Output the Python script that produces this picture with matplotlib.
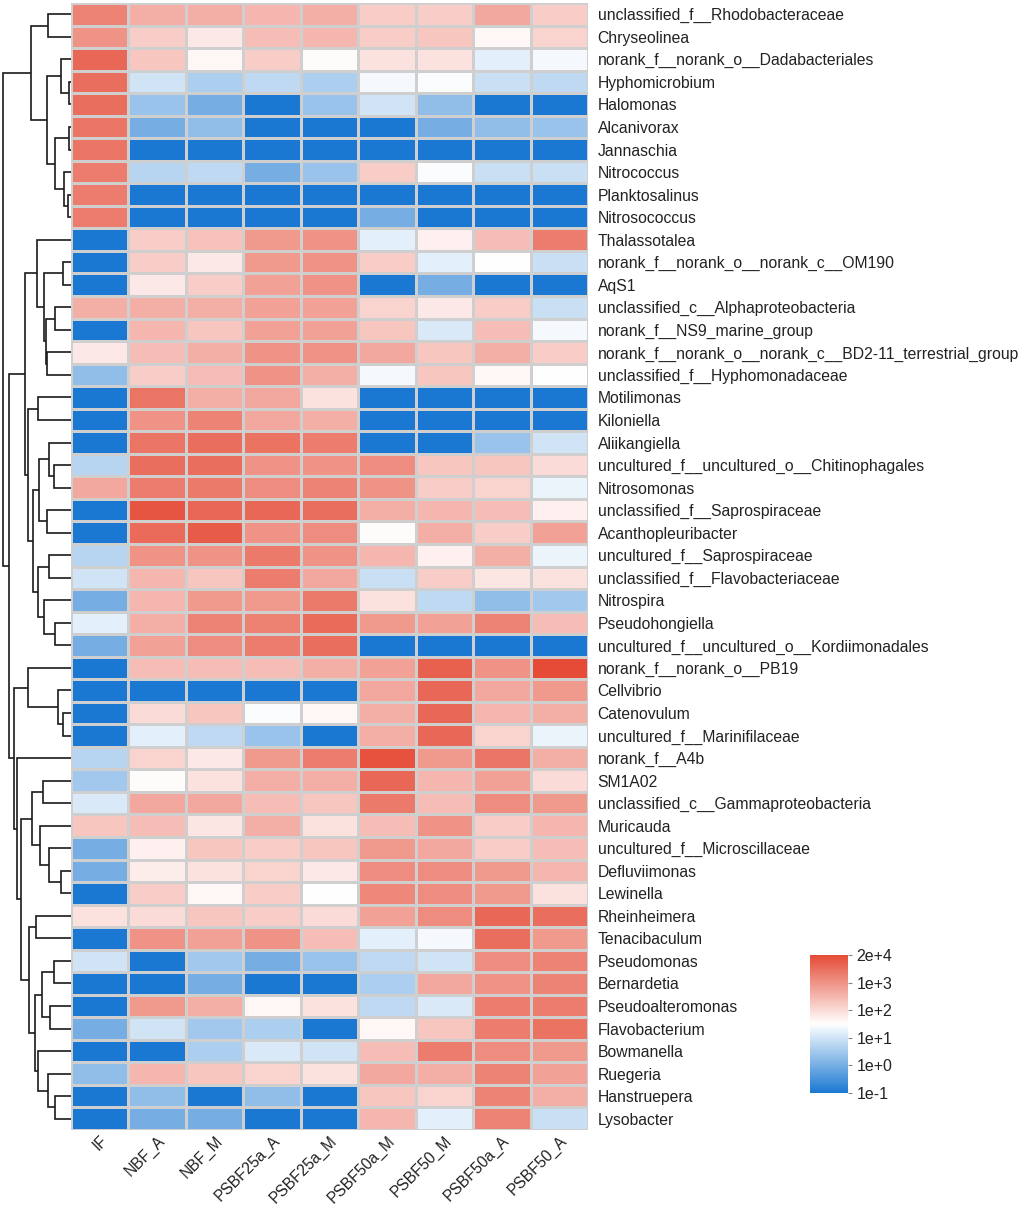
import matplotlib
matplotlib.use('Agg')
import matplotlib.pyplot as plt
import numpy as np
from matplotlib.colors import LinearSegmentedColormap, Normalize
from matplotlib.colorbar import ColorbarBase

plt.rcParams['font.family'] = ['Liberation Sans', 'DejaVu Sans']
plt.rcParams['font.size'] = 11.3

genera = ['unclassified_f__Rhodobacteraceae', 'Chryseolinea', 'norank_f__norank_o__Dadabacteriales',
          'Hyphomicrobium', 'Halomonas', 'Alcanivorax', 'Jannaschia', 'Nitrococcus', 'Planktosalinus',
          'Nitrosococcus', 'Thalassotalea', 'norank_f__norank_o__norank_c__OM190', 'AqS1',
          'unclassified_c__Alphaproteobacteria', 'norank_f__NS9_marine_group',
          'norank_f__norank_o__norank_c__BD2-11_terrestrial_group', 'unclassified_f__Hyphomonadaceae',
          'Motilimonas', 'Kiloniella', 'Aliikangiella', 'uncultured_f__uncultured_o__Chitinophagales',
          'Nitrosomonas', 'unclassified_f__Saprospiraceae', 'Acanthopleuribacter',
          'uncultured_f__Saprospiraceae', 'unclassified_f__Flavobacteriaceae', 'Nitrospira',
          'Pseudohongiella', 'uncultured_f__uncultured_o__Kordiimonadales', 'norank_f__norank_o__PB19',
          'Cellvibrio', 'Catenovulum', 'uncultured_f__Marinifilaceae', 'norank_f__A4b', 'SM1A02',
          'unclassified_c__Gammaproteobacteria', 'Muricauda', 'uncultured_f__Microscillaceae',
          'Defluviimonas', 'Lewinella', 'Rheinheimera', 'Tenacibaculum', 'Pseudomonas', 'Bernardetia',
          'Pseudoalteromonas', 'Flavobacterium', 'Bowmanella', 'Ruegeria', 'Hanstruepera', 'Lysobacter']

samples = ['IF', 'NBF_A', 'NBF_M', 'PSBF25a_A', 'PSBF25a_M', 'PSBF50a_M', 'PSBF50_M', 'PSBF50a_A', 'PSBF50_A']

# position on the colour key, 0 = 1e-1 ... 5 = 2e+4
IF = [4.2, 4.0, 4.6, 4.5, 4.5, 4.4, 4.4, 4.3, 4.3, 4.3,
      0, 0, 0, 3.6, 0, 2.8, 1.3, 0, 0, 0,
      1.7, 3.7, 0, 0, 1.7, 2.0, 1.0, 2.2, 1.0, 0,
      0, 0, 0, 1.7, 1.5, 2.1, 3.3, 1.0, 1.0, 0,
      2.9, 0, 2.0, 0, 0, 1.0, 0, 1.3, 0, 0]
NBF_A = [3.6, 3.2, 3.3, 2.0, 1.4, 1.0, 0, 1.7, 0, 0,
         3.2, 3.2, 2.8, 3.6, 3.5, 3.4, 3.2, 4.4, 4.0, 4.4,
         4.5, 4.3, 4.85, 4.55, 4.0, 3.5, 3.5, 3.6, 3.8, 3.4,
         0, 3.0, 2.2, 3.1, 2.55, 3.7, 3.4, 2.7, 2.75, 3.2,
         3.0, 4.0, 0, 0, 3.9, 2.0, 0, 3.5, 1.3, 1.0]
NBF_M = [3.6, 2.8, 2.6, 1.6, 1.0, 1.3, 0, 1.8, 0, 0,
         3.35, 2.8, 3.2, 3.6, 3.3, 3.6, 3.4, 3.6, 4.2, 4.5,
         4.5, 4.35, 4.6, 4.75, 4.0, 3.3, 3.9, 4.2, 4.1, 3.4,
         0, 3.3, 1.8, 2.8, 2.9, 3.7, 2.85, 3.3, 2.9, 2.6,
         3.3, 3.8, 1.5, 1.0, 3.6, 1.5, 1.6, 3.3, 0, 1.0]
PSBF25a_A = [3.5, 3.4, 3.2, 1.8, 0, 0, 0, 1.0, 0, 0,
             3.9, 3.9, 3.8, 3.8, 3.8, 4.0, 4.0, 3.7, 3.7, 4.45,
             4.0, 4.1, 4.6, 4.0, 4.35, 4.3, 3.9, 4.25, 4.3, 3.4,
             0, 2.45, 1.4, 3.9, 3.6, 3.4, 3.6, 3.2, 3.1, 3.2,
             3.2, 4.0, 1.0, 0, 2.6, 1.6, 2.1, 3.1, 1.3, 0]
PSBF25a_M = [3.6, 3.5, 2.55, 1.6, 1.4, 0, 0, 1.4, 0, 0,
             4.0, 4.0, 4.0, 3.8, 3.8, 4.0, 3.6, 2.9, 3.6, 4.3,
             4.0, 4.2, 4.5, 4.1, 4.0, 3.7, 4.35, 4.55, 4.5, 3.6,
             0, 2.6, 0, 4.3, 3.6, 3.3, 2.9, 3.3, 2.8, 2.5,
             3.0, 3.4, 1.4, 0, 2.9, 0, 2.0, 2.9, 0, 0]
PSBF50a_M = [3.2, 3.2, 2.9, 2.4, 2.0, 0, 0, 3.2, 0, 1.0,
             2.2, 3.2, 0, 3.1, 3.3, 3.7, 2.4, 0, 0, 0,
             4.1, 4.0, 3.6, 2.55, 3.5, 1.9, 2.9, 3.9, 0, 3.8,
             3.7, 3.6, 3.6, 4.9, 4.6, 4.35, 3.4, 3.9, 4.1, 4.15,
             3.8, 2.2, 1.8, 1.6, 1.8, 2.6, 3.4, 3.7, 3.3, 3.5]
PSBF50_M = [3.2, 3.3, 2.9, 2.45, 1.3, 1.0, 0, 2.45, 0, 0,
            2.7, 2.2, 1.0, 2.8, 2.1, 3.3, 3.3, 0, 0, 0,
            3.3, 3.2, 3.5, 3.6, 2.7, 3.2, 1.8, 3.8, 0, 4.7,
            4.6, 4.6, 4.6, 3.9, 3.5, 3.4, 4.0, 3.7, 4.1, 4.1,
            4.1, 2.4, 2.0, 3.7, 2.1, 3.3, 4.3, 3.6, 3.1, 2.2]
PSBF50a_A = [3.7, 2.6, 2.2, 1.9, 0, 1.3, 0, 1.9, 0, 0,
             3.4, 2.5, 0, 3.2, 3.4, 3.6, 2.6, 0, 0, 1.4,
             3.3, 3.1, 3.4, 3.2, 3.6, 2.85, 1.3, 4.2, 0, 4.0,
             3.7, 3.5, 3.1, 4.4, 3.8, 4.1, 3.2, 3.2, 3.9, 3.9,
             4.6, 4.5, 4.1, 4.0, 4.3, 4.3, 4.1, 4.2, 4.2, 4.2]
PSBF50_A = [3.2, 3.1, 2.4, 1.8, 0, 1.4, 0, 1.9, 0, 0,
            4.3, 1.9, 0, 1.9, 2.4, 3.2, 2.5, 0, 0, 2.0,
            3.0, 2.3, 2.7, 3.8, 2.3, 2.9, 1.5, 3.4, 0, 5.0,
            3.9, 3.6, 2.3, 3.6, 3.0, 3.9, 3.5, 3.4, 3.5, 2.9,
            4.5, 3.9, 4.2, 4.2, 4.3, 4.45, 3.9, 3.8, 3.6, 1.9]

key_ticks = [0, 1, 2, 3, 4, 5]
key_labels = ['1e-1', '1e+0', '1e+1', '1e+2', '1e+3', '2e+4']

# row clustering: (node, child, child, merge height); ints are row numbers (1-based)
row_links = [
    ('a1', 1, 2, 22.7), ('a2', 4, 5, 2.0), ('a3', 3, 'a2', 10.0), ('a4', 6, 7, 2.0),
    ('a5', 9, 10, 2.7), ('a6', 8, 'a5', 6.7), ('a7', 'a4', 'a6', 16.0), ('a8', 'a3', 'a7', 23.7),
    ('E', 'a1', 'a8', 40.3),
    ('b1', 12, 13, 7.7), ('b2', 14, 15, 16.0), ('b3', 16, 17, 24.3), ('F', 'b2', 'b3', 25.5),
    ('G', 'b1', 'F', 26.7), ('I', 11, 'G', 34.3), ('b4', 18, 19, 32.7), ('b5', 21, 22, 16.7),
    ('b6', 20, 'b5', 21.7), ('b7', 23, 24, 24.3), ('b8', 'b6', 'b7', 31.7), ('b9', 25, 26, 21.7),
    ('b10', 28, 29, 16.0), ('b11', 27, 'b10', 26.7), ('K', 'b9', 'b11', 33.3), ('L', 'b8', 'K', 38.0),
    ('J', 'b4', 'L', 42.7), ('H', 'I', 'J', 46.0),
    ('c1', 32, 33, 7.7), ('c2', 31, 'c1', 12.7), ('N', 30, 'c2', 42.7), ('c3', 35, 36, 27.7),
    ('c4', 39, 40, 10.0), ('c5', 38, 'c4', 21.7), ('O', 37, 'c5', 31.0), ('P', 'c3', 'O', 38.7),
    ('c6', 41, 42, 35.0), ('c7', 43, 44, 17.0), ('c8', 45, 46, 21.0), ('c9', 'c7', 'c8', 28.7),
    ('c10', 49, 50, 16.0), ('c11', 48, 'c10', 22.7), ('c12', 47, 'c11', 32.7), ('T', 'c9', 'c12', 36.0),
    ('S', 'c6', 'T', 41.7), ('U', 'P', 'S', 50.3), ('Q', 34, 'U', 54.3), ('W', 'N', 'Q', 57.0),
    ('V', 'H', 'W', 61.7), ('root', 'E', 'V', 68.3),
]

W_PX, H_PX = 1024, 1207
fig = plt.figure(figsize=(W_PX / 100, H_PX / 100), dpi=100)

hm_left, hm_right, hm_top, hm_bottom = 71, 588, 3, 1130
ax = fig.add_axes([hm_left / W_PX, 1 - hm_bottom / H_PX,
                   (hm_right - hm_left) / W_PX, (hm_bottom - hm_top) / H_PX])
ax_d = fig.add_axes([0, 1 - hm_bottom / H_PX, hm_left / W_PX, (hm_bottom - hm_top) / H_PX])

cmap = LinearSegmentedColormap.from_list('bwr_key', ['#1B78D2', '#FFFFFF', '#E54B36'])
norm = Normalize(vmin=0, vmax=5)

mat = np.array([IF, NBF_A, NBF_M, PSBF25a_A, PSBF25a_M, PSBF50a_M, PSBF50_M, PSBF50a_A, PSBF50_A]).T
n_rows, n_cols = mat.shape
ax.pcolormesh(np.arange(n_cols + 1), np.arange(n_rows + 1), mat, cmap=cmap, norm=norm,
              edgecolors='#cfcfcf', linewidth=0.8)
ax.set_xlim(0, n_cols)
ax.set_ylim(n_rows, 0)
for s in ax.spines.values():
    s.set_visible(False)

ax.yaxis.tick_right()
ax.set_yticks(np.arange(n_rows) + 0.5)
ax.set_yticklabels(genera, color='#222222')
ax.set_xticks(np.arange(n_cols) + 0.5)
ax.set_xticklabels(samples, color='#222222', fontsize=11.2)
ax.tick_params(axis='y', length=0, pad=7)
ax.tick_params(axis='x', length=0, pad=2)
plt.setp(ax.get_xticklabels(), rotation=45, ha='right', va='top', rotation_mode='anchor')

# dendrogram
pos = {i + 1: (i + 0.5, 0.0) for i in range(n_rows)}
for name, a, b, h in row_links:
    ya, ha = pos[a]
    yb, hb = pos[b]
    ax_d.plot([ha, h, h, hb], [ya, ya, yb, yb], color='#1a1a1a', lw=1.2,
              solid_joinstyle='miter', solid_capstyle='butt')
    pos[name] = ((ya + yb) / 2, h)
ax_d.set_xlim(hm_left, 0)
ax_d.set_ylim(n_rows, 0)
ax_d.axis('off')

# colour key
ax_c = fig.add_axes([810 / W_PX, 1 - 1093 / H_PX, 38 / W_PX, 138 / H_PX])
cb = ColorbarBase(ax_c, cmap=cmap, norm=norm, ticks=key_ticks)
cb.set_ticklabels(key_labels)
cb.outline.set_visible(False)
ax_c.tick_params(length=3, width=0.8, color='#888888', labelsize=11.5, labelcolor='#222222', pad=3)

fig.savefig('out.png', dpi=100)
